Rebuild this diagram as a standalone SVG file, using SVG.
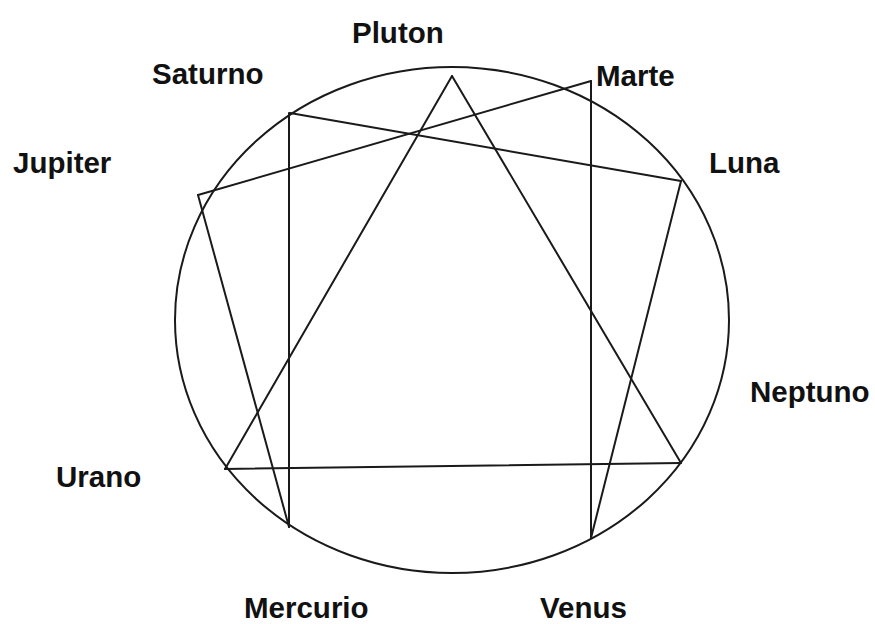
<svg xmlns="http://www.w3.org/2000/svg" width="875" height="624" viewBox="0 0 875 624">
<style>
.lbl{font-family:"Liberation Sans",Arial,sans-serif;font-weight:bold;font-size:29.5px;fill:#111}
.ln{stroke:#1a1a1a;stroke-width:2;fill:none;stroke-linecap:round;stroke-linejoin:round}
</style>
<rect width="875" height="624" fill="#fff"/>
<g id="orbit"><ellipse class="ln" cx="452" cy="320" rx="277" ry="253"/></g>
<g id="connectors">
<line class="ln" x1="452" y1="76" x2="225" y2="469"/>
<line class="ln" x1="452" y1="76" x2="681" y2="463"/>
<line class="ln" x1="225" y1="469" x2="681" y2="463"/>
<line class="ln" x1="290" y1="113" x2="681" y2="181"/>
<line class="ln" x1="289" y1="113" x2="289" y2="527"/>
<line class="ln" x1="591" y1="81" x2="198" y2="195"/>
<line class="ln" x1="591" y1="81" x2="591" y2="538"/>
<line class="ln" x1="198" y1="195" x2="289" y2="527"/>
<line class="ln" x1="681" y1="181" x2="591" y2="538"/>
</g>
<g id="pluton"><text class="lbl" x="352" y="43">Pluton</text></g>
<g id="saturno"><text class="lbl" x="152" y="84">Saturno</text></g>
<g id="marte"><text class="lbl" x="596" y="86">Marte</text></g>
<g id="jupiter"><text class="lbl" x="13" y="173">Jupiter</text></g>
<g id="luna"><text class="lbl" x="709" y="173">Luna</text></g>
<g id="neptuno"><text class="lbl" x="750" y="402">Neptuno</text></g>
<g id="urano"><text class="lbl" x="56" y="487">Urano</text></g>
<g id="mercurio"><text class="lbl" x="244" y="618">Mercurio</text></g>
<g id="venus"><text class="lbl" x="540" y="618">Venus</text></g>
</svg>
